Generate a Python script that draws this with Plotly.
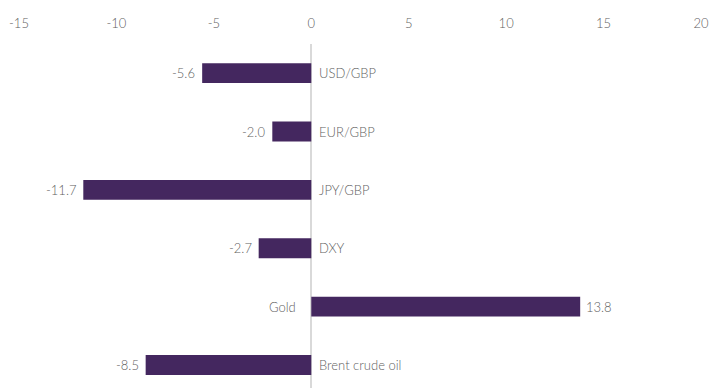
import plotly.graph_objects as go

categories = ["USD/GBP", "EUR/GBP", "JPY/GBP", "DXY", "Gold", "Brent crude oil"]
values = [-5.6, -2.0, -11.7, -2.7, 13.8, -8.5]
tick_values = [-15, -10, -5, 0, 5, 10, 15, 20]

bar_color = "#44275f"
text_color = "#5f5f5f"
font_family = "Lato, 'Open Sans', sans-serif"
label_font = dict(family=font_family, size=13, color=text_color, weight=300)

positions = list(range(len(categories)))

fig = go.Figure()
fig.add_trace(go.Bar(
    x=values,
    y=positions,
    orientation="h",
    width=0.34,
    marker=dict(color=bar_color, line=dict(width=0)),
    hoverinfo="skip",
))

annotations = []
for pos, cat, val in zip(positions, categories, values):
    # value label just beyond the bar end
    annotations.append(dict(
        x=val, y=pos, xref="x", yref="y",
        text=f"{val:.1f}",
        showarrow=False,
        xanchor="right" if val < 0 else "left",
        xshift=-5 if val < 0 else 4,
        font=label_font,
    ))
    # category label on the opposite side of the zero line
    annotations.append(dict(
        x=0, y=pos, xref="x", yref="y",
        text=cat,
        showarrow=False,
        xanchor="left" if val < 0 else "right",
        xshift=6 if val < 0 else -13,
        font=label_font,
    ))

fig.update_layout(
    width=711,
    height=388,
    margin=dict(l=19, r=10, t=44, b=0),
    paper_bgcolor="white",
    plot_bgcolor="white",
    showlegend=False,
    annotations=annotations,
    font=label_font,
    xaxis=dict(
        side="top",
        range=[-15, 20],
        tickvals=tick_values,
        ticktext=[str(t) for t in tick_values],
        showgrid=False,
        zeroline=True,
        zerolinecolor="#d9d9d9",
        zerolinewidth=2,
        showline=False,
        ticks="",
        ticklabelstandoff=12,
        tickfont=label_font,
    ),
    yaxis=dict(
        range=[5.394, -0.5],
        showticklabels=False,
        showgrid=False,
        zeroline=False,
        showline=False,
        ticks="",
    ),
)

fig.write_html("out.html")
